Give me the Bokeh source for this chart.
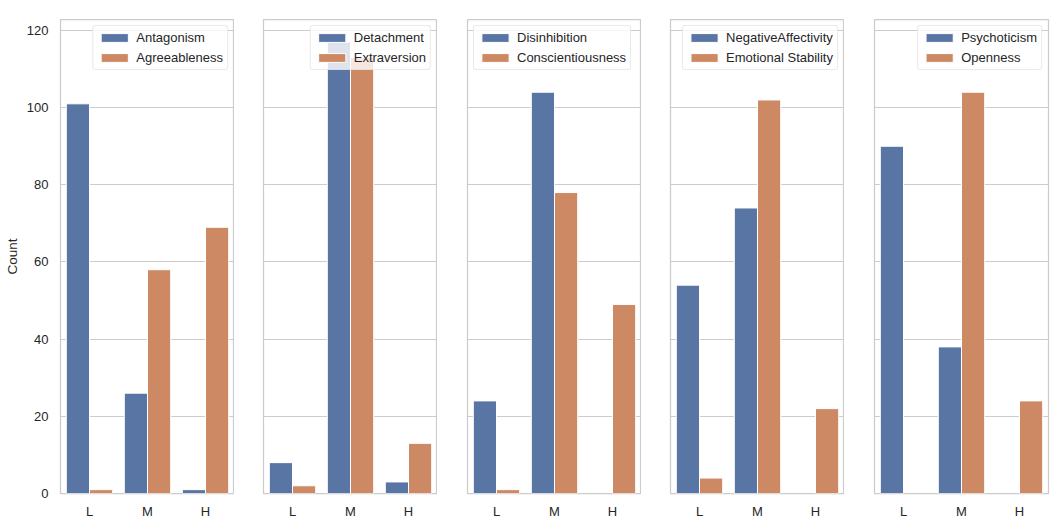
from bokeh.plotting import figure
from bokeh.layouts import row
from bokeh.models import ColumnDataSource, FactorRange, Range1d, FixedTicker, Legend, LegendItem
from bokeh.transform import dodge
from bokeh.embed import file_html
from bokeh.resources import INLINE

# Trait levels on the x axis
levels = ["L", "M", "H"]

# Maladaptive (PID-5) domains and their Big Five counterparts
pid_traits = ["Antagonism", "Detachment", "Disinhibition", "NegativeAffectivity", "Psychoticism"]
big5_traits = ["Agreeableness", "Extraversion", "Conscientiousness", "Emotional Stability", "Openness"]

# Counts per level (L, M, H)
antagonism = [101, 26, 1]
agreeableness = [1, 58, 69]
detachment = [8, 117, 3]
extraversion = [2, 113, 13]
disinhibition = [24, 104, 0]
conscientiousness = [1, 78, 49]
negative_affectivity = [54, 74, 0]
emotional_stability = [4, 102, 22]
psychoticism = [90, 38, 0]
openness = [0, 104, 24]

pid_counts = [antagonism, detachment, disinhibition, negative_affectivity, psychoticism]
big5_counts = [agreeableness, extraversion, conscientiousness, emotional_stability, openness]

y_ticks = [0, 20, 40, 60, 80, 100, 120]

BLUE = "#5975A4"
ORANGE = "#CC8963"
GRID = "#CCCCCC"
TEXT = "#262626"
FONT = "Liberation Sans"

legend_corners = ["top_right", "top_right", "top_left", "top_right", "top_right"]
left_borders = [60, 29, 30, 29, 30]
right_borders = [0, 0, 0, 0, 11]

y_range = Range1d(0, 122.85)


def edge_alpha(counts):
    # empty categories get no outline so nothing shows on the baseline
    return [1.0 if c > 0 else 0.0 for c in counts]


def first_nonzero(counts):
    return next(k for k, c in enumerate(counts) if c > 0)


figs = []
for i in range(5):
    p = figure(
        x_range=FactorRange(factors=levels),
        y_range=y_range,
        frame_width=174,
        frame_height=474,
        min_border_left=left_borders[i],
        min_border_right=right_borders[i],
        min_border_top=19,
        min_border_bottom=37,
        output_backend="svg",
        toolbar_location=None,
        background_fill_color="white",
        border_fill_color="white",
    )
    src = ColumnDataSource(dict(
        level=levels,
        a=pid_counts[i], b=big5_counts[i],
        a_alpha=edge_alpha(pid_counts[i]), b_alpha=edge_alpha(big5_counts[i]),
    ))
    ra = p.vbar(x=dodge("level", -0.2, range=p.x_range), top="a", width=0.4, source=src,
                fill_color=BLUE, fill_alpha="a_alpha", line_color="white", line_alpha="a_alpha",
                line_width=1)
    rb = p.vbar(x=dodge("level", 0.2, range=p.x_range), top="b", width=0.4, source=src,
                fill_color=ORANGE, fill_alpha="b_alpha", line_color="white", line_alpha="b_alpha",
                line_width=1)

    p.outline_line_color = GRID
    p.outline_line_width = 1.25
    p.xgrid.visible = False
    p.ygrid.ticker = FixedTicker(ticks=y_ticks)
    p.ygrid.grid_line_color = GRID
    p.ygrid.grid_line_width = 1.1

    xa = p.xaxis[0]
    xa.axis_line_color = None
    xa.major_tick_line_color = None
    xa.minor_tick_line_color = None
    xa.major_tick_out = 0
    xa.major_tick_in = 0
    xa.major_label_standoff = 10
    xa.major_label_text_font = FONT
    xa.major_label_text_font_size = "13px"
    xa.major_label_text_color = TEXT

    ya = p.yaxis[0]
    if i == 0:
        ya.ticker = FixedTicker(ticks=y_ticks)
        ya.axis_line_color = None
        ya.major_tick_line_color = None
        ya.minor_tick_line_color = None
        ya.major_tick_out = 0
        ya.major_tick_in = 0
        ya.major_label_standoff = 12
        ya.major_label_text_font = FONT
        ya.major_label_text_font_size = "13px"
        ya.major_label_text_color = TEXT
        ya.axis_label = "Count"
        ya.axis_label_text_font = FONT
        ya.axis_label_text_font_size = "13.5px"
        ya.axis_label_text_font_style = "normal"
        ya.axis_label_text_color = TEXT
        ya.axis_label_standoff = 4
    else:
        ya.visible = False

    lg = Legend(items=[
        LegendItem(label=pid_traits[i], renderers=[ra], index=first_nonzero(pid_counts[i])),
        LegendItem(label=big5_traits[i], renderers=[rb], index=first_nonzero(big5_counts[i])),
    ])
    lg.location = legend_corners[i]
    lg.margin = 6
    lg.padding = 4
    lg.spacing = 5
    lg.label_height = 11
    lg.glyph_height = 11
    lg.glyph_width = 34
    lg.label_standoff = 5
    lg.label_text_font = FONT
    lg.label_text_font_size = "13px"
    lg.label_text_color = TEXT
    lg.background_fill_color = "white"
    lg.background_fill_alpha = 0.8
    lg.border_line_color = "#D5D5D5"
    lg.border_line_width = 1
    lg.border_radius = 3
    p.add_layout(lg, "center")
    figs.append(p)

layout = row(figs, spacing=0)
open("out.html", "w").write(file_html(layout, INLINE))
